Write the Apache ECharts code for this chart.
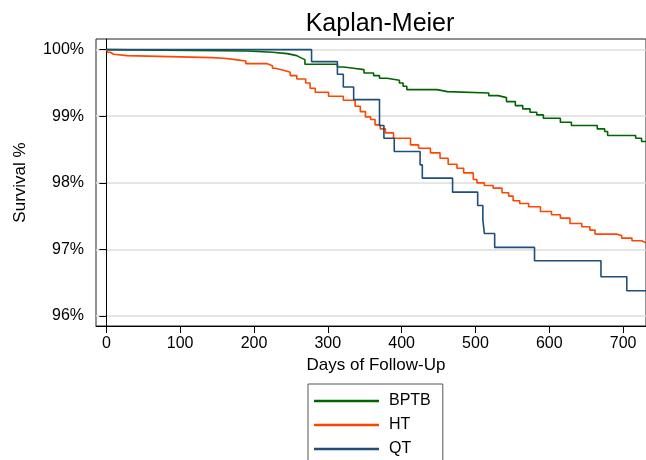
<!DOCTYPE html>
<html>
<head>
<meta charset="utf-8">
<script src="https://cdn.jsdelivr.net/npm/echarts@6/dist/echarts.min.js"></script>
<style>
  html, body { margin: 0; padding: 0; background: #fff; }
  #km { width: 646px; height: 460px; }
</style>
</head>
<body>
<div id="km"></div>
<script>
// 生存曲线数据
const xTicks = [0, 100, 200, 300, 400, 500, 600, 700];
const yTicks = [96, 97, 98, 99, 100];

const bptbDays = [0, 2, 191, 225, 245, 258, 263, 269, 313, 321, 335, 349, 362, 370, 380, 397, 402, 407, 448, 462, 518, 531, 542, 554, 564, 574, 583, 592, 615, 630, 665, 675, 679, 717, 725, 731];
const bptbSurv = [100, 99.98, 99.96, 99.94, 99.91, 99.88, 99.85, 99.78, 99.74, 99.72, 99.70, 99.65, 99.61, 99.57, 99.54, 99.50, 99.45, 99.40, 99.37, 99.35, 99.31, 99.28, 99.22, 99.16, 99.11, 99.06, 99.02, 98.97, 98.91, 98.86, 98.81, 98.77, 98.71, 98.67, 98.62, 98.61];

const htDays = [0, 2, 5, 10, 28, 143, 159, 175, 189, 218, 225, 229, 240, 249, 258, 270, 276, 283, 301, 321, 337, 344, 351, 358, 364, 371, 378, 389, 412, 423, 439, 452, 463, 475, 484, 497, 502, 512, 524, 536, 545, 551, 560, 572, 588, 603, 615, 628, 644, 655, 662, 691, 698, 712, 725, 731];
const htSurv = [100, 99.96, 99.93, 99.91, 99.88, 99.87, 99.85, 99.83, 99.79, 99.76, 99.72, 99.69, 99.66, 99.61, 99.56, 99.50, 99.42, 99.36, 99.30, 99.24, 99.15, 99.07, 98.99, 98.95, 98.87, 98.81, 98.75, 98.67, 98.57, 98.52, 98.45, 98.37, 98.28, 98.22, 98.15, 98.05, 98.00, 97.96, 97.92, 97.85, 97.80, 97.73, 97.69, 97.64, 97.57, 97.52, 97.47, 97.39, 97.34, 97.29, 97.23, 97.21, 97.17, 97.13, 97.10, 97.09];

const qtDays = [0, 278, 313, 321, 335, 370, 376, 390, 425, 428, 469, 503, 510, 512, 526, 580, 670, 705, 731];
const qtSurv = [100, 99.82, 99.63, 99.44, 99.25, 98.86, 98.67, 98.47, 98.27, 98.07, 97.86, 97.66, 97.45, 97.24, 97.03, 96.83, 96.59, 96.38, 96.38];

const font = "'Liberation Sans', Arial, sans-serif";

function pairs(days, surv) {
  return days.map((d, i) => [d, surv[i]]);
}

function kmSeries(name, color, data) {
  return {
    name,
    type: "line",
    step: "end",
    symbol: "none",
    data,
    lineStyle: { color, width: 1.6 },
    itemStyle: { color },
    animation: false
  };
}

const chart = echarts.init(document.getElementById("km"), null, { renderer: "canvas" });

chart.setOption({
  backgroundColor: "#fff",
  title: {
    text: "Kaplan-Meier",
    left: 375,
    top: 7,
    textAlign: "center",
    textStyle: { fontFamily: font, fontSize: 25, fontWeight: "normal", color: "#000" }
  },
  grid: {
    left: 96,
    right: -2,
    top: 39,
    bottom: 134,
    show: true,
    borderColor: "#222",
    borderWidth: 1
  },
  legend: {
    orient: "vertical",
    left: 308,
    top: 384,
    height: 120,
    icon: "rect",
    itemWidth: 65,
    itemHeight: 2.5,
    itemGap: 8,
    padding: [9, 12, 30, 6],
    borderColor: "#555",
    borderWidth: 1,
    textStyle: { fontFamily: font, fontSize: 16, lineHeight: 12, color: "#000", padding: [0, 0, 0, 5] },
    data: ["BPTB", "HT", "QT"]
  },
  xAxis: {
    type: "value",
    min: -14,
    max: 731,
    name: "Days of Follow-Up",
    nameLocation: "middle",
    nameGap: 28,
    nameTextStyle: { fontFamily: font, fontSize: 17, color: "#000", padding: [0, 0, 0, 10] },
    axisLine: { lineStyle: { color: "#000", width: 1 } },
    axisTick: { show: true, length: 7, lineStyle: { color: "#000" }, customValues: xTicks },
    axisLabel: { fontFamily: font, fontSize: 16, color: "#000", margin: 10, customValues: xTicks },
    splitLine: { show: false }
  },
  yAxis: {
    type: "value",
    min: 95.85,
    max: 100.16,
    name: "Survival %",
    nameLocation: "middle",
    nameGap: 67,
    nameTextStyle: { fontFamily: font, fontSize: 17, color: "#000" },
    axisLine: { show: true, lineStyle: { color: "#000", width: 1 } },
    axisTick: { show: true, length: 7, lineStyle: { color: "#000" }, customValues: yTicks },
    axisLabel: {
      fontFamily: font, fontSize: 16, color: "#000", margin: 12,
      customValues: yTicks,
      formatter: (v) => v + "%"
    },
    splitLine: { show: true, lineStyle: { color: "#dcdcdc", width: 1.5 }, customValues: yTicks }
  },
  series: [
    kmSeries("BPTB", "#006400", pairs(bptbDays, bptbSurv)),
    kmSeries("HT", "#ff4500", pairs(htDays, htSurv)),
    kmSeries("QT", "#1f4e79", pairs(qtDays, qtSurv))
  ]
});
</script>
</body>
</html>
